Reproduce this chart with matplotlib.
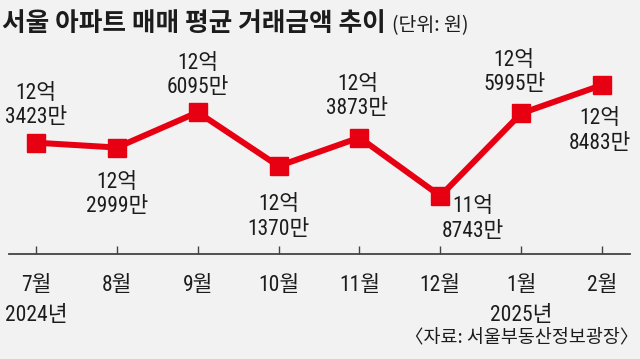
import matplotlib
matplotlib.use("Agg")
import matplotlib.pyplot as plt
from matplotlib import font_manager

# data (unit: 만원)
months = ["7월", "8월", "9월", "10월", "11월", "12월", "1월", "2월"]
years = ["2024년", "", "", "", "", "", "2025년", ""]
prices = [123423, 122999, 126095, 121370, 123873, 118743, 125995, 128483]

# label placement around each marker, pixels (dx, dy downwards)
label_offsets = [(0, -37), (0, 47), (0, -37), (0, 51),
                 (-2, -41), (33, 23), (-7, -41), (-2, 46)]

installed = {f.name for f in font_manager.fontManager.ttflist}
narrow = [n for n in ["Roboto Condensed", "Archivo Narrow", "Barlow Semi Condensed",
                      "Liberation Sans Narrow", "DejaVu Sans"] if n in installed][:1]
num_family = narrow + ["Noto Sans CJK KR"]
kr_family = ["Noto Sans CJK KR", "DejaVu Sans"]

RED = "#e60012"
INK = "#1c1c1c"
BG = "#f2f2f2"
PX = 72 / 100  # points per pixel

fig = plt.figure(figsize=(6.4, 3.59), dpi=100, facecolor=BG)
W, H = 640, 359
ax = fig.add_axes([9 / W, (H - 254) / H, 621 / W, 214 / H])
ax.set_facecolor("none")

x = list(range(len(months)))
ax.plot(x, prices, color=RED, lw=6 * PX, marker="s", ms=18 * PX,
        solid_joinstyle="miter", zorder=3, clip_on=False)

ax.set_xlim(-0.334, 7.346)
ax.set_ylim(113656, 132435)

for i, v in enumerate(prices):
    dx, dy = label_offsets[i]
    ax.annotate(f"{v // 10000}억\n{v % 10000}만", (i, v),
                xytext=(dx * PX, -dy * PX), textcoords="offset points",
                ha="center", va="center", fontsize=15.5, color=INK,
                family=num_family, linespacing=1.2, zorder=4)

for s in ["top", "left", "right"]:
    ax.spines[s].set_visible(False)
ax.spines["bottom"].set_color("#444444")
ax.spines["bottom"].set_linewidth(1.3)
ax.set_yticks([])
ax.set_xticks(x)
ax.set_xticklabels([m + ("\n" + y if y else "") for m, y in zip(months, years)],
                   fontsize=15.5, color=INK, family=num_family, linespacing=1.55)
ax.tick_params(axis="x", direction="in", length=8 * PX, width=1,
               color="#444444", pad=21 * PX)

# title
title = fig.text(2 / W, (H - 31) / H, "서울 아파트 매매 평균 거래금액 추이",
                 fontsize=18.5, fontweight="heavy", color=INK, family=kr_family,
                 ha="left", va="baseline")
fig.canvas.draw()
bb = title.get_window_extent()
fig.text((bb.x1 + 6) / W, (H - 31) / H, "(단위: 원)", fontsize=14,
         color=INK, family=kr_family, ha="left", va="baseline")

fig.text(638 / W, (H - 337) / H, "〈자료: 서울부동산정보광장〉", fontsize=13.3,
         color=INK, family=kr_family, ha="right", va="center")

fig.savefig("out.png", dpi=100, facecolor=BG)
